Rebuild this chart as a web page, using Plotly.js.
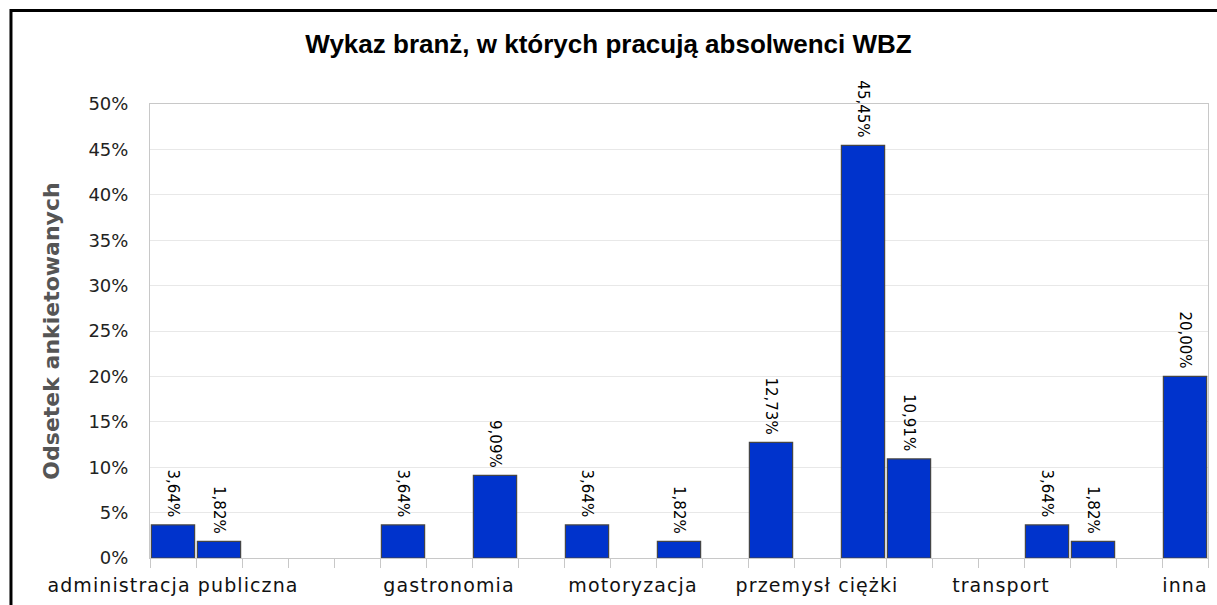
<!DOCTYPE html>
<html>
<head>
<meta charset="utf-8">
<script src="https://cdn.plot.ly/plotly-3.0.1.min.js"></script>
<style>
html,body{margin:0;padding:0;background:#fff;}
#chart{width:1217px;height:605px;}
#chart .xtick text{letter-spacing:1.1px;}
</style>
</head>
<body>
<div id="chart"></div>
<script>
// Data
const slots = [0, 1, 5, 7, 9, 11, 13, 15, 16, 19, 20, 22];
const values = [3.64, 1.82, 3.64, 9.09, 3.64, 1.82, 12.73, 45.45, 10.91, 3.64, 1.82, 20.00];
const tickSlots = [0, 6, 10, 14, 18, 22];
const tickLabels = ['administracja publiczna', 'gastronomia', 'motoryzacja', 'przemysł ciężki', 'transport', 'inna'];
const yTicks = [0, 5, 10, 15, 20, 25, 30, 35, 40, 45, 50];

const trace = {
  type: 'bar',
  x: slots,
  y: values,
  width: 0.94,
  marker: {color: '#0033cc', line: {color: '#454545', width: 1.2}},
  texttemplate: '%{y:.2f}%\u00a0',
  textposition: 'outside',
  textangle: 90,
  constraintext: 'none',
  cliponaxis: false,
  textfont: {family: 'DejaVu Sans', size: 15, color: '#000'},
  hoverinfo: 'skip'
};

const layout = {
  width: 1217,
  height: 605,
  margin: {l: 150, r: 9, t: 104, b: 47},
  paper_bgcolor: '#fff',
  plot_bgcolor: '#fff',
  separators: ', ',
  showlegend: false,
  title: {
    text: 'Wykaz branż, w których pracują absolwenci WBZ',
    font: {family: 'Liberation Sans', size: 26, color: '#000', weight: 'bold'},
    x: 0.5, xref: 'container', xanchor: 'center',
    y: 0.928, yref: 'container', yanchor: 'middle'
  },
  xaxis: {
    range: [-0.5, 22.5],
    tickmode: 'array',
    tickvals: tickSlots,
    ticktext: tickLabels,
    ticks: '',
    showgrid: false,
    zeroline: false,
    showline: true,
    mirror: true,
    linecolor: '#c8c8c8',
    linewidth: 1,
    tickfont: {family: 'DejaVu Sans', size: 19, color: '#111'},
    ticklabelstandoff: 10,
    minor: {tick0: -0.5, dtick: 1, ticks: 'outside', ticklen: 9, tickcolor: '#c8c8c8', tickwidth: 1, showgrid: false}
  },
  yaxis: {
    range: [0, 50],
    tickmode: 'array',
    tickvals: yTicks,
    ticktext: yTicks.map(v => v + '%'),
    ticks: '',
    ticklabelstandoff: 17,
    showgrid: true,
    gridcolor: '#e8e8e8',
    gridwidth: 1,
    zeroline: false,
    showline: true,
    mirror: true,
    linecolor: '#c8c8c8',
    linewidth: 1,
    tickfont: {family: 'DejaVu Sans', size: 18, color: '#222'},
    title: {
      text: 'Odsetek ankietowanych',
      font: {family: 'DejaVu Sans', size: 22, color: '#555', weight: 'bold'},
      standoff: 22
    }
  },
  shapes: [{
    type: 'rect', xref: 'paper', yref: 'paper',
    x0: -0.1314, x1: 1.1, y0: -0.3, y1: 1.2059,
    line: {color: '#000', width: 3}, fillcolor: 'rgba(0,0,0,0)', layer: 'above'
  }]
};

Plotly.newPlot('chart', [trace], layout, {displayModeBar: false, staticPlot: true});
</script>
</body>
</html>
